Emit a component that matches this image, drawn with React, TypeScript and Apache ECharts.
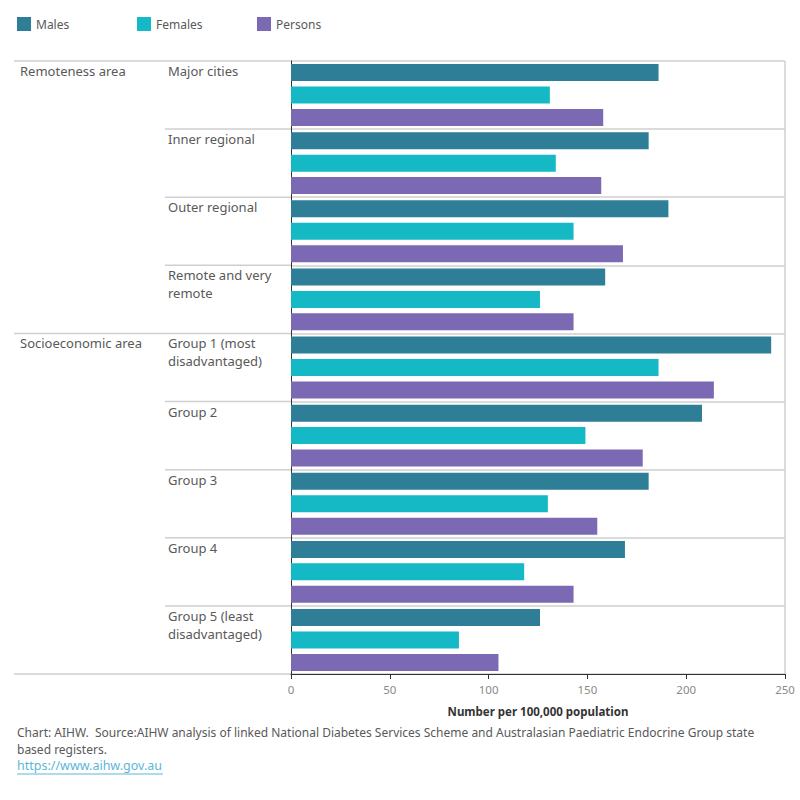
import React, { useEffect, useRef } from "react";
import * as echarts from "echarts";

const groups = ["Remoteness area", "Socioeconomic area"];
const groupSizes = [4, 5];
const categories = [
  "Major cities",
  "Inner regional",
  "Outer regional",
  "Remote and very\nremote",
  "Group 1 (most\ndisadvantaged)",
  "Group 2",
  "Group 3",
  "Group 4",
  "Group 5 (least\ndisadvantaged)",
];
const seriesNames = ["Males", "Females", "Persons"];
const males = [186, 181, 191, 159, 243, 208, 181, 169, 126];
const females = [131, 134, 143, 126, 186, 149, 130, 118, 85];
const persons = [158, 157, 168, 143, 214, 178, 155, 143, 105];
const xMin = 0;
const xMax = 250;
const xInterval = 50;
const axisTitle = "Number per 100,000 population";
const footerLines = [
  "Chart: AIHW.  Source:AIHW analysis of linked National Diabetes Services Scheme and Australasian Paediatric Endocrine Group state",
  "based registers.",
];
const footerLink = "https://www.aihw.gov.au";

const colors = ["#2e7e97", "#15b9c5", "#7c69b4"];
const FONT = "Noto Sans";
const TEXT = "#595959";

export default function App() {
  const ref = useRef<HTMLDivElement>(null);
  useEffect(() => {
    document.body.style.margin = "0";
    if (!ref.current) return;
    const chart = echarts.init(ref.current, null, { renderer: "svg" });
    const data = [males, females, persons];
    chart.setOption({
      animation: false,
      color: colors,
      legend: seriesNames.map((n, k) => ({
        left: 12 + k * 120,
        top: 12,
        itemWidth: 14,
        itemHeight: 14,
        itemGap: 5,
        icon: "rect",
        data: [n],
        textStyle: { fontFamily: FONT, fontSize: 12, color: TEXT },
        selectedMode: false,
      })),
      grid: { left: 291, right: 15, top: 61, bottom: 126, containLabel: false },
      xAxis: {
        type: "value",
        min: xMin,
        max: xMax,
        interval: xInterval,
        name: axisTitle,
        nameLocation: "middle",
        nameGap: 31,
        nameTextStyle: { fontFamily: FONT, fontSize: 11.5, fontWeight: "bold", color: "#333" },
        axisLine: { show: true, lineStyle: { color: "#333", width: 1 } },
        axisTick: { show: true, length: 5, lineStyle: { color: "#333" } },
        axisLabel: { fontFamily: FONT, fontSize: 11.5, color: "#8a8a8a", margin: 9 },
        splitLine: { show: false },
      },
      yAxis: {
        type: "category",
        inverse: true,
        data: categories,
        axisLine: { show: true, lineStyle: { color: "#333", width: 1 } },
        axisTick: { show: false },
        axisLabel: { show: false },
        splitLine: { show: true, lineStyle: { color: "#cfcfcf", width: 1.5 } },
      },
      series: seriesNames.map((n, k) => ({
        type: "bar",
        name: n,
        data: data[k],
        barWidth: 17,
        barGap: "32%",
        itemStyle: { color: colors[k] },
      })),
    });

    const y0 = chart.convertToPixel({ yAxisIndex: 0 }, 0) as number;
    const y1 = chart.convertToPixel({ yAxisIndex: 0 }, 1) as number;
    const band = y1 - y0;
    const top = y0 - band / 2;
    const gridLeft = 291;
    const gridRight = 785;
    const elements: any[] = [];
    categories.forEach((c, i) => {
      const rowTop = top + i * band;
      elements.push({
        type: "text",
        left: 168,
        top: rowTop + 1,
        style: { text: c, fontFamily: FONT, fontSize: 13, lineHeight: 18, fill: TEXT },
      });
    });
    let idx = 0;
    groups.forEach((g, gi) => {
      const rowTop = top + idx * band;
      elements.push({
        type: "text",
        left: 20,
        top: rowTop + 1,
        style: { text: g, fontFamily: FONT, fontSize: 13, lineHeight: 18, fill: TEXT },
      });
      elements.push({
        type: "line",
        shape: { x1: 14, y1: rowTop, x2: gridLeft, y2: rowTop },
        style: { stroke: "#cfcfcf", lineWidth: 1.5 },
      });
      for (let j = 1; j < groupSizes[gi]; j++) {
        const yy = top + (idx + j) * band;
        elements.push({
          type: "line",
          shape: { x1: 165, y1: yy, x2: gridLeft, y2: yy },
          style: { stroke: "#cfcfcf", lineWidth: 1.5 },
        });
      }
      idx += groupSizes[gi];
    });
    const bottomY = top + idx * band;
    elements.push({
      type: "line",
      shape: { x1: 14, y1: bottomY, x2: gridLeft, y2: bottomY },
      style: { stroke: "#cfcfcf", lineWidth: 1.5 },
    });
    elements.push({
      type: "line",
      shape: { x1: gridRight, y1: top, x2: gridRight, y2: bottomY },
      style: { stroke: "#cfcfcf", lineWidth: 1.5 },
    });
    footerLines.forEach((t, i) => {
      elements.push({
        type: "text",
        left: 17,
        top: 726 + i * 17,
        style: { text: t, fontFamily: FONT, fontSize: 12, fill: TEXT },
      });
    });
    elements.push({
      type: "text",
      left: 17,
      top: 759,
      style: { text: footerLink, fontFamily: FONT, fontSize: 12.5, fill: "#5cb6d9" },
    });
    elements.push({
      type: "line",
      shape: { x1: 17, y1: 774, x2: 163, y2: 774 },
      style: { stroke: "#5cb6d9", lineWidth: 1 },
    });
    chart.setOption({ graphic: { elements } });
    return () => chart.dispose();
  }, []);
  return <div ref={ref} style={{ width: 800, height: 800 }} />;
}
